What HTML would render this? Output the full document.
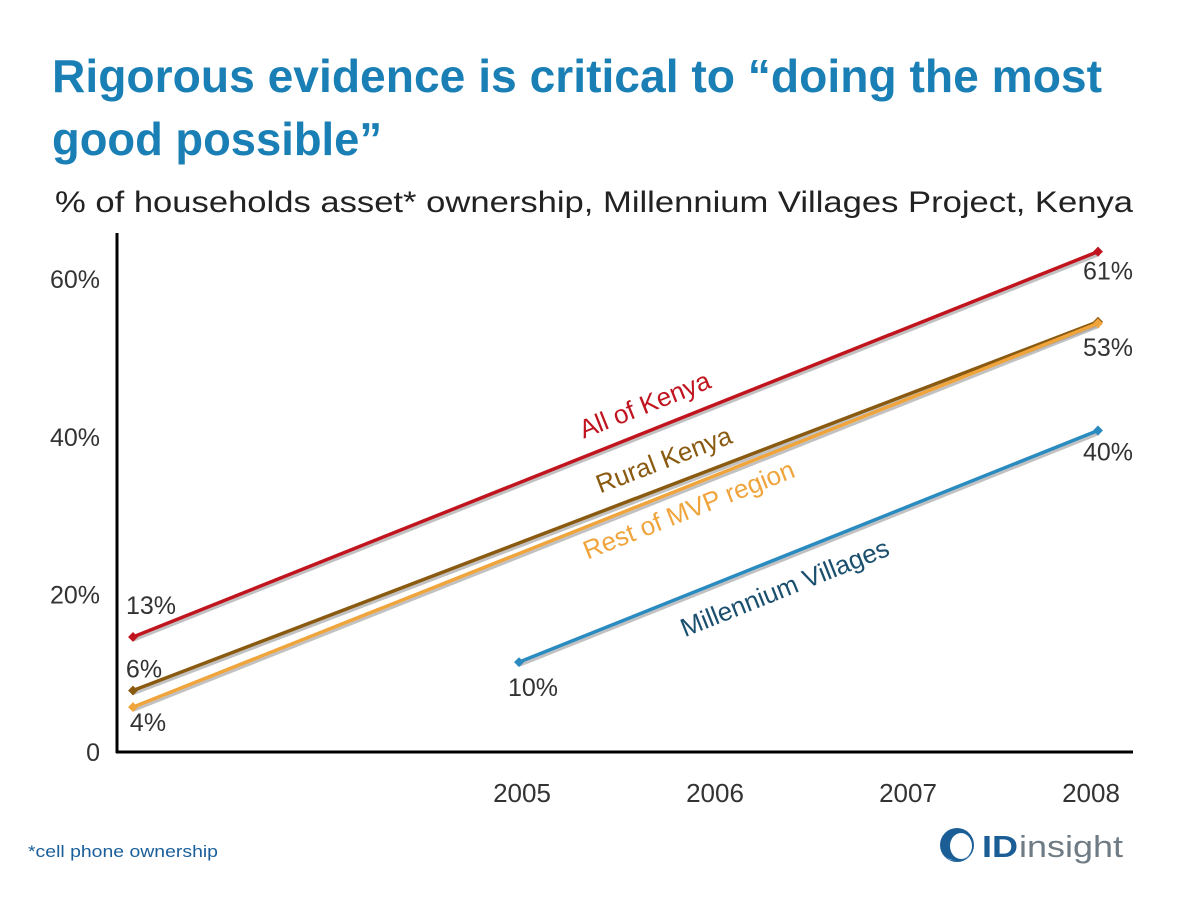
<!DOCTYPE html>
<html><head><meta charset="utf-8"><style>
body{margin:0;width:1200px;height:900px;background:#fff;overflow:hidden;font-family:"Liberation Sans",sans-serif}
svg{position:absolute;left:0;top:0}
</style></head><body>
<svg id="c" width="1200" height="900">
<text x="52" y="92" font-size="46" font-weight="bold" fill="#1a7fb5" textLength="1050" lengthAdjust="spacingAndGlyphs">Rigorous evidence is critical to “doing the most</text>
<text x="52" y="155" font-size="46" font-weight="bold" fill="#1a7fb5" textLength="330" lengthAdjust="spacingAndGlyphs">good possible”</text>
<text x="55" y="212" font-size="30" fill="#222" textLength="1078" lengthAdjust="spacingAndGlyphs">% of households asset* ownership, Millennium Villages Project, Kenya</text>
<text x="28" y="857" font-size="17" fill="#1a5f9a" textLength="190" lengthAdjust="spacingAndGlyphs">*cell phone ownership</text>
<g>
<circle cx="957" cy="845" r="17" fill="#1b5e96"/>
<ellipse cx="961" cy="846" rx="11" ry="13" fill="#fff"/>
<path d="M944 855 Q956 866 970 855 Q964 862 950 860Z" fill="#7fb2dd"/>
<text x="982" y="857" font-size="31" font-weight="bold" fill="#1b5e96" textLength="36" lengthAdjust="spacingAndGlyphs">ID</text>
<text x="1019" y="857" font-size="31" fill="#6f7c85" textLength="104" lengthAdjust="spacingAndGlyphs">insight</text>
</g>
<g id="axes"></g>
<g id="marks"></g>
</svg>
<script>
const categories=["","","2005","2006","2007","2008"];
const yTicks=[0,20,40,60];
const yTickLabels=["0","20%","40%","60%"];
const allKenya=[14.6,null,null,null,null,63.5];
const ruralKenya=[7.8,null,null,null,null,54.6];
const restMVP=[5.7,null,null,null,null,54.4];
const millVillages=[null,null,11.4,null,null,40.8];
const allKenyaLabels=["13%","61%"];
const ruralLabels=["6%","53%"];
const restLabels=["4%"];
const mvLabels=["10%","40%"];
const NS="http://www.w3.org/2000/svg";
const x=i=>133+i*193;
const y=v=>752-v*7.88;
function mk(tag,attrs,parent,text){const e=document.createElementNS(NS,tag);for(const k in attrs)e.setAttribute(k,attrs[k]);if(text!==undefined)e.textContent=text;parent.appendChild(e);return e;}
const ax=document.getElementById('axes'),mg=document.getElementById('marks');
let e=mk('line',{x1:117,y1:233,x2:117,y2:753,stroke:'#000','stroke-width':3},ax);


e=mk('line',{x1:116,y1:752,x2:1133,y2:752,stroke:'#000','stroke-width':3},ax);


yTicks.forEach((t,i)=>{const el=mk('text',{x:100,y:y(t)+9,'font-size':25,fill:'#333','text-anchor':'end'},ax,yTickLabels[i]);

});
categories.forEach((c,i)=>{if(!c)return;const el=mk('text',{x:x(i)-(i==5?7:-3),y:802,'font-size':26,fill:'#333','text-anchor':'middle'},ax,c);

});
function series(vals,color,name,labels,offs,lab,labPos,labColor){
 const pts=[];vals.forEach((v,i)=>{if(v!==null)pts.push([x(i),y(v)]);});
 const sh=mk('line',{x1:pts[0][0]+1,y1:pts[0][1]+3,x2:pts[1][0]+1,y2:pts[1][1]+3,stroke:'#999','stroke-width':3,opacity:0.6},mg);
 
 
 const l=mk('line',{x1:pts[0][0],y1:pts[0][1],x2:pts[1][0],y2:pts[1][1],stroke:color,'stroke-width':3.5},mg);
 
 
 pts.forEach((p,j)=>{const m=mk('rect',{x:p[0]-3.5,y:p[1]-3.5,width:7,height:7,fill:color,transform:`rotate(45 ${p[0]} ${p[1]})`},mg);
 
 
 if(labels[j]!==undefined){const t=mk('text',{x:p[0]+offs[j][0],y:p[1]+offs[j][1],'font-size':25,fill:'#333','text-anchor':'middle'},mg,labels[j]);
 
 }});
 const ang=Math.atan2(pts[1][1]-pts[0][1],pts[1][0]-pts[0][0])*180/Math.PI;
 const t=mk('text',{x:labPos[0],y:labPos[1],'font-size':26,fill:labColor||color,'text-anchor':'middle',transform:`rotate(${ang} ${labPos[0]} ${labPos[1]})`},mg,lab);
 
 
}
series(allKenya,'#c0141e','all-kenya',allKenyaLabels,[[18,-23],[10,28]],'All of Kenya',[648,413]);
series(ruralKenya,'#8a5a10','rural-kenya',ruralLabels,[[11,-13],[10,34]],'Rural Kenya',[667,468]);
series(restMVP,'#f0a43c','rest-mvp',restLabels,[[15,24]],'Rest of MVP region',[692,518]);
series(millVillages,'#2a8bc0','millennium-villages',mvLabels,[[14,34],[10,30]],'Millennium Villages',[788,596],'#1a4f6e');
</script>
</body></html>
